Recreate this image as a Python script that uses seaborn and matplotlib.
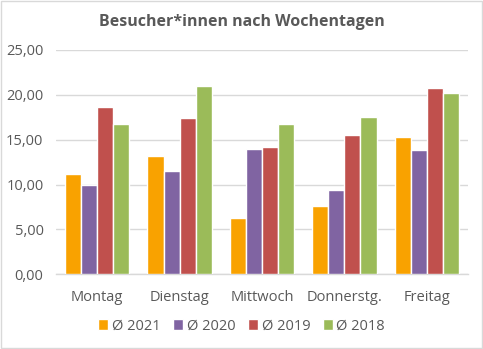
import matplotlib
matplotlib.use("Agg")
import matplotlib.pyplot as plt
import seaborn as sns
import pandas as pd
from matplotlib.patches import Rectangle
from matplotlib.ticker import FuncFormatter

days = ["Montag", "Dienstag", "Mittwoch", "Donnerstg.", "Freitag"]
years = ["Ø 2021", "Ø 2020", "Ø 2019", "Ø 2018"]
v2021 = [11.2, 13.2, 6.3, 7.6, 15.3]
v2020 = [10.0, 11.5, 14.0, 9.4, 13.8]
v2019 = [18.6, 17.4, 14.2, 15.5, 20.8]
v2018 = [16.7, 21.0, 16.7, 17.5, 20.2]
colors = ["#F9A200", "#8064A2", "#C0504D", "#9BBB59"]

rows = []
for year, vals in zip(years, [v2021, v2020, v2019, v2018]):
    for d, v in zip(days, vals):
        rows.append({"Tag": d, "Jahr": year, "Wert": v})
df = pd.DataFrame(rows)

sns.set_theme(style="white")
plt.rcParams["font.family"] = ["Open Sans", "DejaVu Sans"]

fig = plt.figure(figsize=(4.83, 3.49), dpi=100)
ax = fig.add_axes([56 / 483, 1 - 274.3 / 349, 412 / 483, 224.3 / 349])

sns.barplot(data=df, x="Tag", y="Wert", hue="Jahr", order=days,
            hue_order=years, palette=colors, width=0.78, saturation=1,
            errorbar=None, ax=ax, zorder=3)

ax.set_ylim(0, 25)
ax.set_yticks([0, 5, 10, 15, 20, 25])
ax.yaxis.set_major_formatter(FuncFormatter(lambda v, p: f"{v:.2f}".replace(".", ",")))
ax.grid(axis="y", color="#D9D9D9", linewidth=1, zorder=0)
ax.set_axisbelow(True)
for s in ["top", "right", "left"]:
    ax.spines[s].set_visible(False)
ax.spines["bottom"].set_color("#D9D9D9")
ax.spines["bottom"].set_linewidth(1)
ax.set_xlabel("")
ax.set_ylabel("")
ax.tick_params(axis="both", length=0, labelsize=10.5, labelcolor="#595959")
ax.tick_params(axis="x", pad=11)
ax.tick_params(axis="y", pad=9)

leg = fig.legend(*ax.get_legend_handles_labels(), loc="center",
                 bbox_to_anchor=(0.5, 1 - 326 / 349), ncol=4, frameon=False,
                 fontsize=10.5, handlelength=0.7, handleheight=0.7,
                 handletextpad=0.25, columnspacing=0.85)
ax.get_legend().remove()
for t in leg.get_texts():
    t.set_color("#595959")

fig.text(0.5, 1 - 22 / 349, "Besucher*innen nach Wochentagen", ha="center",
         va="center", fontsize=11.5, fontweight="bold", color="#595959")

fig.patches.append(Rectangle((1 / 483, 1 / 349), 481 / 483, 347 / 349,
                             transform=fig.transFigure, fill=False,
                             edgecolor="#D9D9D9", linewidth=1))

fig.savefig("out.png", dpi=100)
